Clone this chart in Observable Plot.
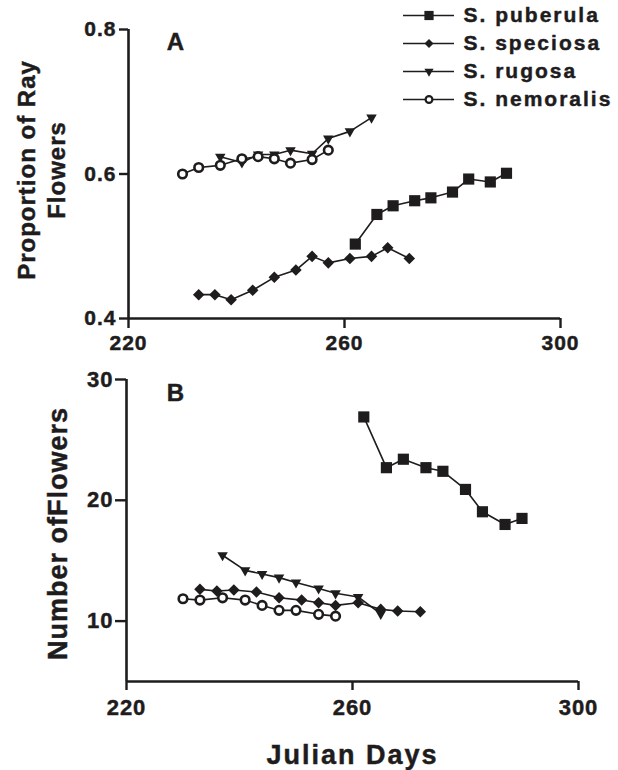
<!DOCTYPE html>
<html>
<head>
<meta charset="utf-8">
<script src="https://cdn.jsdelivr.net/npm/d3@7"></script>
<script src="https://cdn.jsdelivr.net/npm/@observablehq/plot@0.6"></script>
<style>
  body { margin: 0; background: #fff; }
  #wrap { position: relative; width: 618px; height: 770px; overflow: hidden; background: #fff; }
  #a { position: absolute; left: 0; top: 0; }
  #b { position: absolute; left: 0; top: 345px; }
  #legend { position: absolute; left: 400px; top: 0; }
  #wrap svg { overflow: visible; }
  #wrap svg text { font-family: "Liberation Sans", Arial, sans-serif; font-weight: bold; stroke: #1e1c1d; stroke-width: 0.45px; }
  #legend text { letter-spacing: 2px; }
  .tick text { letter-spacing: 1px; }
  .xtitle text { letter-spacing: 2px; }
  .ytitle text { letter-spacing: 1px; }
</style>
</head>
<body>
<div id="wrap"><div id="a"></div><div id="b"></div><div id="legend"></div></div>
<script>
const ink = "#1e1c1d";

const species = ["S. puberula", "S. speciosa", "S. rugosa", "S. nemoralis"];
const xTicks = [220, 260, 300];
const rayTicks = [0.4, 0.6, 0.8];
const numTicks = [10, 20, 30];

const puberulaDays = [262, 266, 269, 273, 276, 280, 283, 287, 290];
const puberulaRay  = [0.503, 0.544, 0.556, 0.563, 0.567, 0.575, 0.593, 0.589, 0.601];
const puberulaNum  = [26.9, 22.7, 23.4, 22.7, 22.4, 20.9, 19.05, 18.0, 18.5];

const speciosaDays = [233, 236, 239, 243, 247, 251, 254, 257, 261, 265, 268, 272];
const speciosaRay  = [0.433, 0.433, 0.426, 0.439, 0.457, 0.467, 0.486, 0.477, 0.483, 0.486, 0.498, 0.483];
const speciosaNum  = [12.63, 12.49, 12.57, 12.41, 11.93, 11.74, 11.52, 11.30, 11.52, 10.97, 10.83, 10.77];

const rugosaDays = [237, 241, 244, 247, 250, 254, 257, 261, 265];
const rugosaRay  = [0.624, 0.616, 0.627, 0.627, 0.633, 0.628, 0.649, 0.659, 0.678];
const rugosaNum  = [15.45, 14.2, 13.9, 13.6, 13.2, 12.7, 12.3, 12.0, 10.6];

const nemoralisDays = [230, 233, 237, 241, 244, 247, 250, 254, 257];
const nemoralisRay  = [0.600, 0.609, 0.612, 0.621, 0.624, 0.621, 0.615, 0.620, 0.633];
const nemoralisNum  = [11.85, 11.74, 11.93, 11.74, 11.30, 10.89, 10.89, 10.56, 10.41];

const yTitleA = "Proportion of Ray\nFlowers";
const yTitleB = "Number ofFlowers";
const xTitle = "Julian Days";

function rows(days, vals, sp) { return days.map((d, i) => ({ day: d, v: vals[i], sp })); }

const dotStyle = {
  "S. puberula":  { symbol: "square", rotate: 0, r: 6.3, fill: ink },
  "S. speciosa":  { symbol: "square", rotate: 45, r: 4.6, fill: ink },
  "S. rugosa":    { symbol: "triangle", rotate: 180, r: 3.9, fill: ink },
  "S. nemoralis": { symbol: "circle", rotate: 0, r: 4.3, fill: "white", stroke: ink, strokeWidth: 2.6 }
};
const legendStyle = {
  "S. puberula":  { symbol: "square", rotate: 0, r: 5.2, fill: ink },
  "S. speciosa":  { symbol: "square", rotate: 45, r: 3.6, fill: ink },
  "S. rugosa":    { symbol: "triangle", rotate: 180, r: 3.4, fill: ink },
  "S. nemoralis": { symbol: "circle", rotate: 0, r: 3.4, fill: "white", stroke: ink, strokeWidth: 2.2 }
};

function seriesMarks(data, sp) {
  return [
    Plot.line(data, { x: "day", y: "v", stroke: ink, strokeWidth: 1.6 }),
    Plot.dot(data, { x: "day", y: "v", ...dotStyle[sp] })
  ];
}

const dataA = [
  rows(puberulaDays, puberulaRay, species[0]),
  rows(speciosaDays, speciosaRay, species[1]),
  rows(rugosaDays, rugosaRay, species[2]),
  rows(nemoralisDays, nemoralisRay, species[3])
];
const dataB = [
  rows(puberulaDays, puberulaNum, species[0]),
  rows(speciosaDays, speciosaNum, species[1]),
  rows(rugosaDays, rugosaNum, species[2]),
  rows(nemoralisDays, nemoralisNum, species[3])
];

const baseStyle = { background: "transparent", color: ink, fontFamily: "Liberation Sans, Arial, sans-serif", fontWeight: "bold", overflow: "visible" };

const plotA = Plot.plot({
  width: 618, height: 345,
  marginTop: 29, marginBottom: 27, marginLeft: 128, marginRight: 58,
  x: { domain: [220, 300] },
  y: { domain: [0.4, 0.8] },
  style: baseStyle,
  marks: [
    Plot.axisY({ ticks: rayTicks, tickFormat: d => d.toFixed(1), tickSize: 9, tickPadding: 3, strokeWidth: 2.4, fontSize: 21, fontWeight: "bold", label: null, className: "tick" }),
    Plot.axisX({ ticks: xTicks, tickFormat: d => String(d), tickSize: 10, tickPadding: 7, strokeWidth: 2.4, fontSize: 21, fontWeight: "bold", label: null, className: "tick" }),
    Plot.ruleX([220], { stroke: ink, strokeWidth: 2.6 }),
    Plot.ruleY([0.4], { stroke: ink, strokeWidth: 2.6 }),
    Plot.text([yTitleA], { frameAnchor: "left", textAnchor: "middle", lineAnchor: "middle", rotate: -90, dx: -88, dy: -4, fontSize: 24, lineHeight: 1.25, fontWeight: "bold", className: "ytitle" }),
    Plot.text(["A"], { frameAnchor: "top-left", textAnchor: "middle", lineAnchor: "middle", dx: 47, dy: 13, fontSize: 24, fontWeight: "bold" }),
    ...dataA.flatMap((d, i) => seriesMarks(d, species[i]))
  ]
});

const plotB = Plot.plot({
  width: 618, height: 425,
  marginTop: 34, marginBottom: 89, marginLeft: 126, marginRight: 40,
  x: { domain: [220, 300] },
  y: { domain: [5, 30] },
  style: baseStyle,
  marks: [
    Plot.axisY({ ticks: numTicks, tickFormat: d => String(d), tickSize: 11, tickPadding: 2, strokeWidth: 2.4, fontSize: 22, fontWeight: "bold", label: null, className: "tick" }),
    Plot.axisX({ ticks: xTicks, tickFormat: d => String(d), tickSize: 9, tickPadding: 9, strokeWidth: 2.4, fontSize: 22, fontWeight: "bold", label: null, className: "tick" }),
    Plot.ruleX([220], { stroke: ink, strokeWidth: 2.6 }),
    Plot.ruleY([5], { stroke: ink, strokeWidth: 2.6 }),
    Plot.text([yTitleB], { frameAnchor: "left", textAnchor: "middle", lineAnchor: "middle", rotate: -90, dx: -68, dy: 3, fontSize: 27, fontWeight: "bold", className: "ytitle" }),
    Plot.text(["B"], { frameAnchor: "top-left", textAnchor: "middle", lineAnchor: "middle", dx: 49, dy: 14, fontSize: 24, fontWeight: "bold" }),
    Plot.text([xTitle], { frameAnchor: "bottom", textAnchor: "middle", lineAnchor: "middle", dy: 74, fontSize: 27, fontWeight: "bold", className: "xtitle" }),
    ...dataB.flatMap((d, i) => seriesMarks(d, species[i]))
  ]
});

const legend = Plot.plot({
  width: 218, height: 120, margin: 0,
  x: { domain: [0, 1], range: [3, 54], axis: null },
  y: { type: "point", domain: species, range: [14, 100], padding: 0, axis: null },
  style: baseStyle,
  marks: [
    Plot.ruleY(species, { y: d => d, x1: 0, x2: 1, stroke: ink, strokeWidth: 1.6 }),
    ...species.map(sp => Plot.dot([sp], { x: 0.5, y: d => d, ...legendStyle[sp] })),
    Plot.text(species, { x: 1, y: d => d, dx: 9, textAnchor: "start", lineAnchor: "middle", fontSize: 21, fontWeight: "bold" })
  ]
});

document.getElementById("a").appendChild(plotA);
document.getElementById("b").appendChild(plotB);
document.getElementById("legend").appendChild(legend);
</script>
</body>
</html>
